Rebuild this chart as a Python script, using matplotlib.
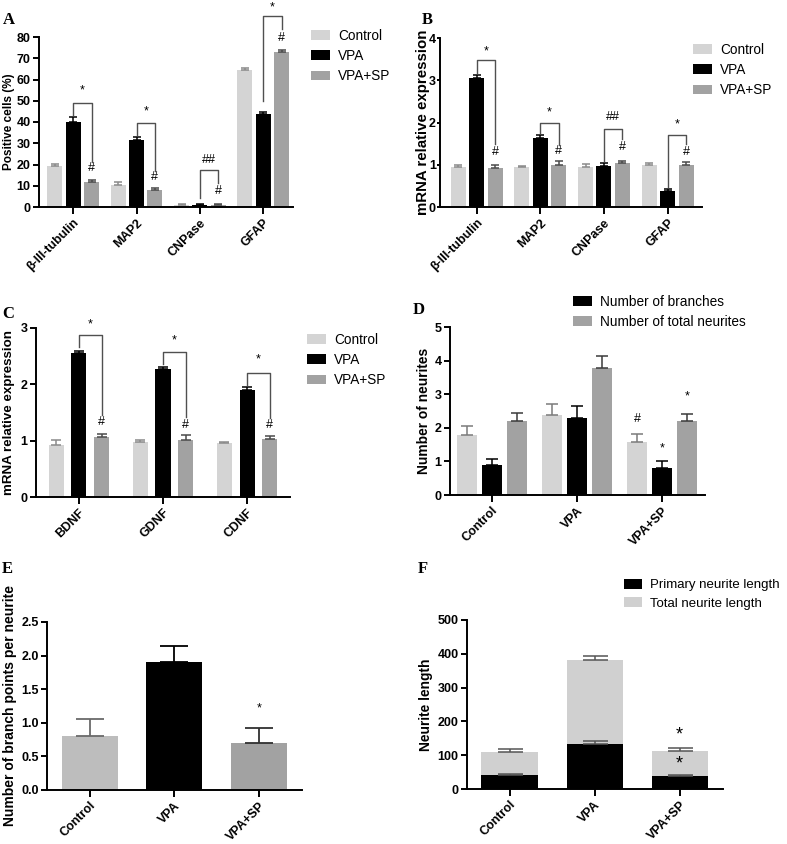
"""Six-panel neurite / marker expression figure (A-F), GraphPad style bars."""
import numpy as np
import matplotlib
matplotlib.use("Agg")
import matplotlib.pyplot as plt

plt.rcParams["font.family"] = ["Liberation Sans", "DejaVu Sans"]

# ---- data -------------------------------------------------------------
GROUPS = ["Control", "VPA", "VPA+SP"]

A_MARKERS = ["β-III-tubulin", "MAP2", "CNPase", "GFAP"]
A_CTRL = [19.1, 10.5, 0.9, 64.6]
A_CTRL_ERR = [1.1, 1.2, 0.4, 0.9]
A_VPA = [40.1, 31.6, 1.1, 43.6]
A_VPA_ERR = [2.1, 1.3, 0.3, 1.3]
A_SP = [11.8, 8.2, 0.9, 73.0]
A_SP_ERR = [0.9, 0.8, 0.4, 0.8]

B_MARKERS = ["β-III-tubulin", "MAP2", "CNPase", "GFAP"]
B_CTRL = [0.95, 0.95, 0.95, 0.99]
B_CTRL_ERR = [0.04, 0.02, 0.06, 0.05]
B_VPA = [3.05, 1.64, 0.97, 0.37]
B_VPA_ERR = [0.07, 0.06, 0.07, 0.06]
B_SP = [0.92, 0.99, 1.03, 0.99]
B_SP_ERR = [0.07, 0.09, 0.05, 0.08]

C_FACTORS = ["BDNF", "GDNF", "CDNF"]
C_CTRL = [0.93, 0.98, 0.95]
C_CTRL_ERR = [0.08, 0.04, 0.03]
C_VPA = [2.55, 2.28, 1.90]
C_VPA_ERR = [0.05, 0.03, 0.06]
C_SP = [1.06, 1.01, 1.03]
C_SP_ERR = [0.06, 0.09, 0.06]

D_LIGHT = [1.79, 2.39, 1.59]
D_LIGHT_ERR = [0.26, 0.31, 0.23]
D_BRANCHES = [0.90, 2.29, 0.80]
D_BRANCHES_ERR = [0.18, 0.37, 0.20]
D_TOTAL = [2.20, 3.79, 2.20]
D_TOTAL_ERR = [0.25, 0.34, 0.20]

E_BRANCH_PTS = [0.80, 1.90, 0.70]
E_BRANCH_PTS_ERR = [0.25, 0.24, 0.22]

F_PRIMARY = [42, 132, 39]
F_PRIMARY_ERR = [3, 11, 3]
F_TOTAL = [110, 383, 113]
F_TOTAL_ERR = [8, 10, 7]

# ---- style ------------------------------------------------------------
W, H = 787, 844
LIGHT = "#d4d4d4"
MID = "#a2a2a2"
DARK = "#000000"
BRACKET = "#505050"
FS_TICK = 9
FS_LEG = 9.8


def px_axes(fig, left, right, y0, ytop):
    """Create axes from pixel edges (top-left origin)."""
    return fig.add_axes([left / W, 1 - y0 / H, (right - left) / W, (y0 - ytop) / H])


def style_axes(ax, xlim, ymax, yticks, xticks, xlabels, ylabel, label_x, label_fs,
               yfmt=None, ytick_len=4, ytick_pad=2):
    for s in ("top", "right"):
        ax.spines[s].set_visible(False)
    for s in ("left", "bottom"):
        ax.spines[s].set_linewidth(1.4)
    ax.set_xlim(*xlim)
    ax.set_ylim(0, ymax)
    ax.set_yticks(yticks)
    if yfmt:
        ax.set_yticklabels([yfmt.format(v) for v in yticks])
    ax.set_xticks(xticks)
    ax.set_xticklabels(xlabels, rotation=45, ha="right", rotation_mode="anchor")
    ax.tick_params(axis="both", direction="out", width=1.4, labelsize=FS_TICK)
    ax.tick_params(axis="x", length=5, pad=2)
    ax.tick_params(axis="y", length=ytick_len, pad=ytick_pad)
    for lab in ax.get_xticklabels() + ax.get_yticklabels():
        lab.set_fontweight("bold")
    ax.set_ylabel(ylabel, fontsize=label_fs, fontweight="bold")
    ax.yaxis.set_label_coords(label_x, 0.5)


def bars(ax, x, vals, errs, width, color, ecolor, capsize, label=None, z=2):
    n = len(vals)
    return ax.bar(x, vals, width, color=color, label=label, zorder=z,
                  yerr=[np.zeros(n), errs],
                  error_kw=dict(ecolor=ecolor, elinewidth=1.1, capsize=capsize, capthick=1.1, zorder=z))


def bracket(ax, x1, x2, top, lb, rb, text, ty, hash_txt=None, hy=None):
    ax.plot([x1, x1, x2, x2], [lb, top, top, rb], color=BRACKET, lw=1, clip_on=False, zorder=5)
    ax.text((x1 + x2) / 2, ty, text, ha="center", va="center", fontsize=FS_TICK, clip_on=False)
    if hash_txt:
        ax.text(x2, hy, hash_txt, ha="center", va="center", fontsize=FS_TICK, clip_on=False)


def legend(ax, x, y, handles=None, labels=None, fs=FS_LEG):
    kw = dict(loc="upper left", bbox_to_anchor=(x / W, 1 - y / H), bbox_transform=ax.figure.transFigure,
              frameon=False, fontsize=fs, handlelength=1.4, handleheight=0.75,
              handletextpad=0.6, labelspacing=0.45, borderpad=0, borderaxespad=0)
    if handles is not None:
        ax.legend(handles, labels, **kw)
    else:
        ax.legend(**kw)


def three_group(ax, ctrl, ctrl_e, vpa, vpa_e, sp, sp_e, off, width, cap):
    x = np.arange(len(ctrl))
    bars(ax, x - off, ctrl, ctrl_e, width, LIGHT, "#8a8a8a", cap, "Control")
    bars(ax, x, vpa, vpa_e, width, DARK, DARK, cap, "VPA")
    bars(ax, x + off, sp, sp_e, width, MID, "#4a4a4a", cap, "VPA+SP")
    return x


def main():
    fig = plt.figure(figsize=(W / 100, H / 100), dpi=100)

    # A -----------------------------------------------------------------
    ax = px_axes(fig, 39, 293, 207, 37)
    x = three_group(ax, A_CTRL, A_CTRL_ERR, A_VPA, A_VPA_ERR, A_SP, A_SP_ERR, 0.29, 0.237, 3)
    style_axes(ax, (-0.54, 3.47), 80, range(0, 81, 10), x, A_MARKERS, "Positive cells (%)", -0.094, 8.5)
    o = 0.29
    bracket(ax, 0, o, 49, 43.5, 21, "*", 55, "#", 18.3)
    bracket(ax, 1, 1 + o, 39.5, 34, 17, "*", 45, "#", 14.3)
    bracket(ax, 2, 2 + o, 17.4, 4.4, 11.5, "##", 22, "#", 7.6)
    bracket(ax, 3, 3 + o, 90, 50, 84, "*", 93.8, "#", 79.5)
    legend(ax, 311, 29)

    # B -----------------------------------------------------------------
    ax = px_axes(fig, 440, 702, 207, 38)
    x = three_group(ax, B_CTRL, B_CTRL_ERR, B_VPA, B_VPA_ERR, B_SP, B_SP_ERR, 0.29, 0.235, 3)
    style_axes(ax, (-0.576, 3.54), 4, range(0, 5), x, B_MARKERS, "mRNA relative expression", -0.040, 10.8,
               ytick_len=2, ytick_pad=1)
    bracket(ax, 0, o, 3.49, 3.17, 1.5, "*", 3.68, "#", 1.31)
    bracket(ax, 1, 1 + o, 2.0, 1.74, 1.46, "*", 2.24, "#", 1.33)
    bracket(ax, 2, 2 + o, 1.85, 1.08, 1.6, "##", 2.13, "#", 1.42)
    bracket(ax, 3, 3 + o, 1.71, 0.47, 1.5, "*", 1.96, "#", 1.31)
    legend(ax, 693, 43)

    # C -----------------------------------------------------------------
    ax = px_axes(fig, 36, 290, 497, 328)
    x = three_group(ax, C_CTRL, C_CTRL_ERR, C_VPA, C_VPA_ERR, C_SP, C_SP_ERR, 0.27, 0.18, 3.5)
    style_axes(ax, (-0.51, 2.51), 3, range(0, 4), x, C_FACTORS, "mRNA relative expression", -0.083, 9.6)
    o = 0.27
    bracket(ax, 0, o, 2.88, 2.66, 1.46, "*", 3.07, "#", 1.33)
    bracket(ax, 1, 1 + o, 2.57, 2.36, 1.42, "*", 2.78, "#", 1.28)
    bracket(ax, 2, 2 + o, 2.21, 1.99, 1.40, "*", 2.44, "#", 1.27)
    legend(ax, 307, 333)

    # D -----------------------------------------------------------------
    ax = px_axes(fig, 450, 705, 495, 327)
    x = np.arange(len(GROUPS))
    o, w = 0.294, 0.235
    bars(ax, x - o, D_LIGHT, D_LIGHT_ERR, w, LIGHT, "#7a7a7a", 4)
    hb = bars(ax, x, D_BRANCHES, D_BRANCHES_ERR, w, DARK, DARK, 4)
    ht = bars(ax, x + o, D_TOTAL, D_TOTAL_ERR, w, MID, "#3a3a3a", 4)
    style_axes(ax, (-0.494, 2.506), 5, range(0, 6), x, GROUPS, "Number of neurites", -0.075, 9.9)
    ax.text(2 - o, 2.26, "#", ha="center", va="center", fontsize=FS_TICK)
    ax.text(2, 1.40, "*", ha="center", va="center", fontsize=FS_TICK)
    ax.text(2 + o, 2.93, "*", ha="center", va="center", fontsize=FS_TICK)
    legend(ax, 573, 295, [hb, ht], ["Number of branches", "Number of total neurites"])

    # E -----------------------------------------------------------------
    ax = px_axes(fig, 47, 302, 790, 622)
    x = np.arange(len(GROUPS))
    ax.bar(x, E_BRANCH_PTS, 0.66, color=["#bdbdbd", DARK, MID], zorder=2)
    for xi, v, e, c in zip(x, E_BRANCH_PTS, E_BRANCH_PTS_ERR, ["#6a6a6a", DARK, "#303030"]):
        ax.errorbar(xi, v, yerr=[[0], [e]], fmt="none", ecolor=c, elinewidth=1.3,
                    capsize=10, capthick=1.3, zorder=3)
    style_axes(ax, (-0.505, 2.51), 2.5, np.arange(0, 2.51, 0.5), x, GROUPS,
               "Number of branch points per neurite", -0.118, 10, "{:.1f}")
    ax.text(2, 1.21, "*", ha="center", va="center", fontsize=FS_TICK)

    # F -----------------------------------------------------------------
    ax = px_axes(fig, 467, 723, 789, 620)
    x = np.arange(len(GROUPS))
    ht = bars(ax, x, F_TOTAL, F_TOTAL_ERR, 0.66, "#d0d0d0", "#555555", 9, z=2)
    hp = bars(ax, x, F_PRIMARY, F_PRIMARY_ERR, 0.66, DARK, "#555555", 9, z=3)
    style_axes(ax, (-0.50, 2.51), 500, range(0, 501, 100), x, GROUPS, "Neurite length", -0.133, 9.9)
    ax.text(2, 159, "*", ha="center", va="center", fontsize=13)
    ax.text(2, 74, "*", ha="center", va="center", fontsize=13)
    legend(ax, 624, 579, [hp, ht], ["Primary neurite length", "Total neurite length"], fs=9.5)

    # panel letters
    for letter, px, py in [("A", 3, 12), ("B", 422, 12), ("C", 2, 306), ("D", 413, 302),
                           ("E", 2, 561), ("F", 418, 561)]:
        fig.text(px / W, 1 - py / H, letter, ha="left", va="top", fontsize=12,
                 fontweight="bold", family=["Liberation Serif", "DejaVu Serif"])

    fig.savefig("out.png", dpi=100)


if __name__ == "__main__":
    main()
